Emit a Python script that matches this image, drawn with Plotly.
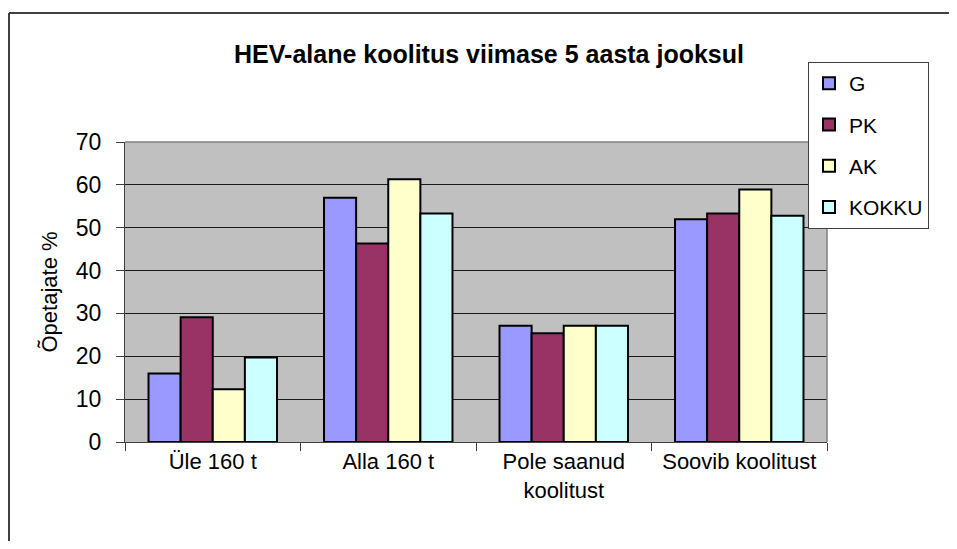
import plotly.graph_objects as go

categories = ["Üle 160 t", "Alla 160 t", "Pole saanud<br>koolitust", "Soovib koolitust"]
series_names = ["G", "PK", "AK", "KOKKU"]
values_G = [16.0, 57.0, 27.1, 52.0]
values_PK = [29.1, 46.3, 25.4, 53.3]
values_AK = [12.3, 61.3, 27.1, 58.9]
values_KOKKU = [19.7, 53.3, 27.1, 52.8]
colors = ["#9999FF", "#993366", "#FFFFCC", "#CCFFFF"]

title_text = "HEV-alane koolitus viimase 5 aasta jooksul"
y_title = "Õpetajate %"
y_ticks = [0, 10, 20, 30, 40, 50, 60, 70]

FONT = "Liberation Sans, Arial, sans-serif"

fig = go.Figure()
for name, vals, col in zip(series_names, [values_G, values_PK, values_AK, values_KOKKU], colors):
    fig.add_trace(go.Bar(
        x=categories, y=vals, name=name, legendgroup=name,
        marker=dict(color=col, line=dict(color="black", width=2)),
    ))

OFF = 8  # page body margin offset
W, H = 957 - OFF, 549 - 2 * OFF
# reference plot area (page px): x 125..827, y 142..442
L = 125 - OFF
T = 142 - OFF
R = W - (827 - OFF)
B = H - (442 - OFF)
pw, ph = W - L - R, H - T - B

def px_x(x):
    return (x - OFF - L) / pw

def px_y(y):
    return (H - B - (y - OFF)) / ph

fig.update_layout(
    width=W, height=H,
    margin=dict(l=L, r=R, t=T, b=B, autoexpand=False),
    paper_bgcolor="white",
    plot_bgcolor="#C0C0C0",
    font=dict(family=FONT, size=22, color="black"),
    barmode="group",
    bargap=0.268,
    bargroupgap=0,
    title=dict(text="<b>" + title_text + "</b>", font=dict(size=25, family=FONT, color="black"),
               x=(489 - OFF) / W, xanchor="center", y=1 - (54 - OFF) / H, yanchor="middle"),
    showlegend=True,
    legend=dict(
        x=px_x(808), y=px_y(62), xanchor="left", yanchor="top",
        bgcolor="white", bordercolor="#404040", borderwidth=1,
        font=dict(size=21, family=FONT, color="black"),
        traceorder="grouped", tracegroupgap=11,
        itemwidth=30,
    ),
    xaxis=dict(
        showgrid=False, showline=True, linecolor="#404040", linewidth=1,
        ticks="outside", tickson="boundaries", ticklen=8, tickcolor="#404040",
        tickfont=dict(size=22),
    ),
    yaxis=dict(
        range=[0, 70], tickvals=y_ticks, showgrid=True, gridcolor="#1a1a1a", gridwidth=1,
        showline=True, linecolor="#404040", linewidth=1, zeroline=False,
        ticks="outside", ticklen=8, tickcolor="#404040", ticklabelstandoff=10,
        tickfont=dict(size=23),
        title=dict(text=y_title, font=dict(size=22), standoff=12),
    ),
)

# plot area border (top/right) in gray
fig.add_shape(type="line", xref="paper", yref="paper", x0=0, x1=1, y0=1, y1=1,
              line=dict(color="#808080", width=1.5))
fig.add_shape(type="line", xref="paper", yref="paper", x0=1, x1=1, y0=0, y1=1,
              line=dict(color="#808080", width=1.5))
# outer chart border (left and top edges visible in the crop)
fig.add_shape(type="line", xref="paper", yref="paper",
              x0=px_x(9), x1=px_x(9), y0=px_y(13), y1=px_y(560),
              line=dict(color="#404040", width=2), layer="below")
fig.add_shape(type="line", xref="paper", yref="paper",
              x0=px_x(9), x1=px_x(957), y0=px_y(13), y1=px_y(13),
              line=dict(color="#404040", width=2), layer="below")

fig.write_html("out.html")
